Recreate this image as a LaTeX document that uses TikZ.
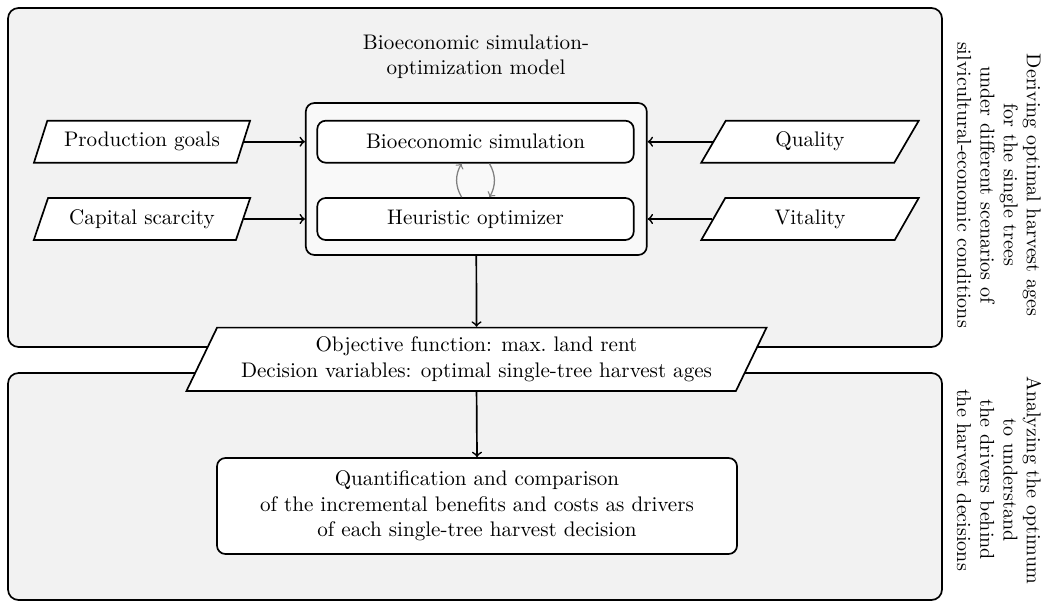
\documentclass[tikz,border=0pt]{standalone}
\usetikzlibrary{shapes.geometric}
\begin{document}
\begin{tikzpicture}[x=0.474pt,y=-0.474pt,
		bgbox/.style={draw,thick,rounded corners=5pt,fill=gray!10},
		blk/.style={draw,thick,rounded corners=4pt,fill=white,align=center},
		para/.style={draw,thick,trapezium,trapezium stretches=true,fill=white,align=center},
		inbox/.style={para,trapezium left angle=70,trapezium right angle=110,minimum width=103.3pt,minimum height=19.9pt},
		side/.style={rotate=-90,align=center,font=\fontsize{9.5}{11}\selectfont},
		arr/.style={->,thick},
		loop/.style={->,gray,semithick}]
	\useasboundingbox (0,0) rectangle (1051,607);
	\draw[bgbox] (8,8) rectangle (942,347);
	\draw[bgbox] (8,373) rectangle (942,600);
	\node[align=center] (lbl) at (476,57) {Bioeconomic simulation-\\optimization model};
	\node[blk,fill=gray!5,minimum width=161.6pt,minimum height=72pt] (mdl) at (476.3,179) {};
	\node[blk,minimum width=150pt,minimum height=19.9pt] (sim) at (475.5,141.7) {Bioeconomic simulation};
	\node[blk,minimum width=150pt,minimum height=19.9pt] (opt) at (475.5,219) {Heuristic optimizer};
	\node[inbox] (prod) at (142,141.7) {Production goals};
	\node[inbox] (cap) at (142,219) {Capital scarcity};
	\node[inbox] (qual) at (810,141.7) {Quality};
	\node[inbox] (vit) at (810,219) {Vitality};
	\node[para,trapezium left angle=64,trapezium right angle=116,minimum width=276pt,minimum height=30pt] (obj) at (476.5,359.3) {Objective function: max.\ land rent\\Decision variables: optimal single-tree harvest ages};
	\node[blk,minimum width=246.5pt,minimum height=45.5pt] (quant) at (477,506) {Quantification and comparison\\of the incremental benefits and costs as drivers\\of each single-tree harvest decision};
	\node[side] (top) at (999,185) {Deriving optimal harvest ages\\for the single trees\\under different scenarios of\\silvicultural-economic conditions};
	\node[side] (bot) at (999,480) {Analyzing the optimum\\to understand\\the drivers behind\\the harvest decisions};
	\draw[arr] (prod.east) -- (prod.east -| mdl.west);
	\draw[arr] (cap.east) -- (cap.east -| mdl.west);
	\draw[arr] (qual.west) -- (qual.west -| mdl.east);
	\draw[arr] (vit.west) -- (vit.west -| mdl.east);
	\draw[loop] ([xshift=-6.6pt]opt.north) to[bend left=30] ([xshift=-6.6pt]sim.south);
	\draw[loop] ([xshift=6.6pt]sim.south) to[bend left=30] ([xshift=6.6pt]opt.north);
	\draw[arr] (mdl.south) -- (obj.north);
	\draw[arr] (obj.south) -- (quant.north);
\end{tikzpicture}
\end{document}
